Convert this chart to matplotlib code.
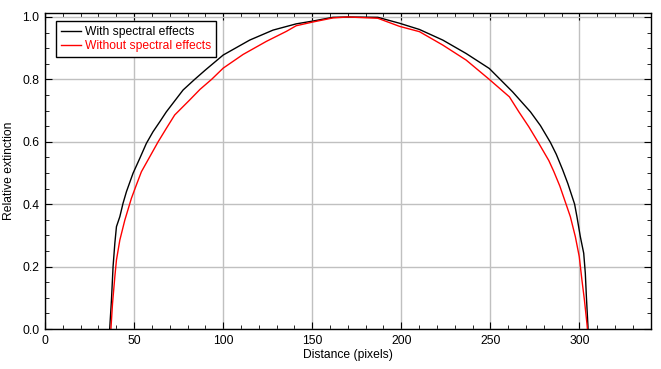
import matplotlib
matplotlib.use("Agg")
import matplotlib.pyplot as plt
from matplotlib.ticker import MultipleLocator

# valores
x_with = [36.3, 37.3, 38.2, 39.2, 40.1, 42.0, 43.8, 45.7, 49.4, 53.2, 56.9, 60.6,
          64.4, 68.1, 77.5, 84.0, 90.0, 100.0, 114.9, 128.0, 141.0, 150.4, 161.6, 170.0,
          186.8, 199.0, 210.2, 223.3, 236.4, 249.4, 262.5, 272.5, 278.1, 283.7,
          287.0, 290.6, 293.5, 297.3, 298.6, 300.5, 302.4, 303.3, 303.9, 304.8, 304.8]
y_with = [0.0, 0.093, 0.200, 0.275, 0.328, 0.360, 0.403, 0.440, 0.499, 0.547, 0.595,
          0.632, 0.664, 0.696, 0.766, 0.800, 0.830, 0.878, 0.926, 0.958, 0.978, 0.987,
          0.999, 1.0, 0.999, 0.980, 0.960, 0.926, 0.883, 0.835, 0.760, 0.696, 0.652,
          0.598, 0.560, 0.510, 0.466, 0.400, 0.360, 0.296, 0.243, 0.179, 0.104, 0.007, 0.0]

x_without = [37.0, 37.9, 39.2, 40.1, 42.0, 44.8, 48.5, 51.3, 54.1, 58.8, 63.5, 68.1,
             72.8, 81.2, 87.0, 93.5, 100.0, 111.2, 124.3, 135.5, 141.0, 150.4, 161.6,
             170.0, 186.8, 199.0, 210.2, 223.3, 236.4, 249.4, 260.7, 266.0, 271.6,
             277.2, 282.8, 285.6, 289.0, 292.5, 294.9, 297.7, 299.9, 301.4, 302.8,
             304.2, 304.5]
y_without = [0.0, 0.082, 0.168, 0.221, 0.285, 0.349, 0.419, 0.462, 0.504, 0.552,
             0.600, 0.643, 0.686, 0.734, 0.768, 0.800, 0.836, 0.880, 0.922, 0.954,
             0.972, 0.984, 0.997, 1.0, 0.996, 0.970, 0.953, 0.910, 0.862, 0.800,
             0.744, 0.696, 0.648, 0.595, 0.540, 0.505, 0.458, 0.400, 0.360, 0.296,
             0.232, 0.157, 0.093, 0.018, 0.0]

plt.rcParams['font.family'] = ['Liberation Sans', 'DejaVu Sans']
plt.rcParams['font.size'] = 8.7

fig = plt.figure(figsize=(6.61, 3.69), dpi=100)
ax = fig.add_axes([0.0681, 0.1084, 0.9163, 0.8572])

ax.plot(x_with, y_with, color="black", linewidth=1, label="With spectral effects")
ax.plot(x_without, y_without, color="red", linewidth=1, label="Without spectral effects")

ax.set_xlim(0, 340)
ax.set_ylim(0, 1.0138)

ax.xaxis.set_major_locator(MultipleLocator(50))
ax.xaxis.set_minor_locator(MultipleLocator(10))
ax.yaxis.set_major_locator(MultipleLocator(0.2))
ax.yaxis.set_minor_locator(MultipleLocator(0.05))
ax.yaxis.set_major_formatter(matplotlib.ticker.FormatStrFormatter('%.1f'))

ax.tick_params(which="both", direction="in", top=True, right=True, color="black")
ax.tick_params(which="major", length=5, pad=4)
ax.tick_params(which="minor", length=3)

ax.grid(True, which="major", color="#c0c0c0", linewidth=1)
ax.set_axisbelow(True)
for s in ax.spines.values():
    s.set_linewidth(1)

ax.set_xlabel("Distance (pixels)", labelpad=2)
ax.set_ylabel("Relative extinction", labelpad=5)

leg = ax.legend(loc="upper left", bbox_to_anchor=(0.0182, 0.973), borderaxespad=0,
                fancybox=False, framealpha=1, edgecolor="black", handlelength=1.65,
                handletextpad=0.35, borderpad=0.4, labelspacing=0.2)
leg.get_frame().set_linewidth(1)
for txt, col in zip(leg.get_texts(), ["black", "red"]):
    txt.set_color(col)

fig.savefig("out.png", dpi=100)
